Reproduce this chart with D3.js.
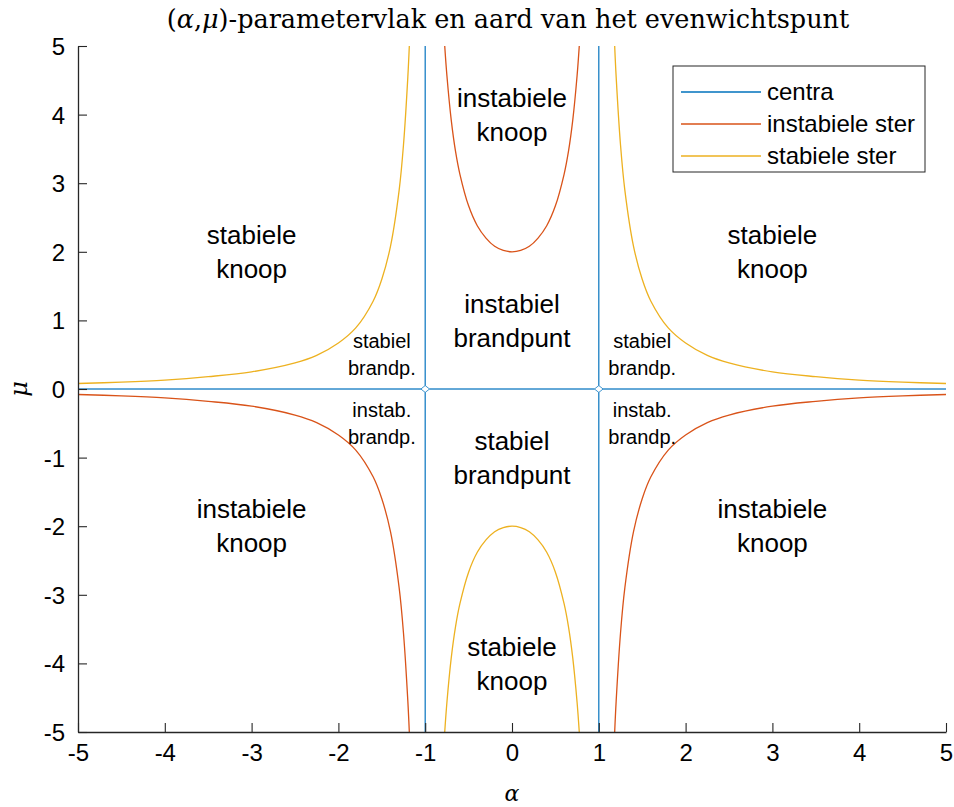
<!DOCTYPE html>
<html>
<head>
<meta charset="utf-8">
<script src="https://d3js.org/d3.v7.min.js"></script>
<style>
  body { margin: 0; background: #fff; }
  text { font-family: "Liberation Sans", Arial, sans-serif; fill: #000; }
</style>
</head>
<body>
<svg id="vis"></svg>
<script>
// ---- data ----
// outer branch (|alpha| > 1), right half, upper side ("stabiele ster")
var outerAlpha = [1.183, 1.2, 1.25, 1.3, 1.4, 1.5, 1.6, 1.8, 2, 2.25, 2.5, 3, 3.5, 4, 4.5, 5];
var outerMu    = [5.0, 4.55, 3.56, 2.90, 2.08, 1.60, 1.28, 0.89, 0.67, 0.49, 0.38, 0.25, 0.18, 0.13, 0.10, 0.08];
// inner branch (|alpha| < 1), right half, upper side ("instabiele ster")
var innerAlpha = [0, 0.1, 0.2, 0.3, 0.4, 0.5, 0.6, 0.65, 0.7, 0.75, 0.775];
var innerMu    = [2.0, 2.02, 2.08, 2.20, 2.38, 2.67, 3.13, 3.46, 3.92, 4.57, 5.0];
// centra: lines alpha = -1, alpha = 1, mu = 0 (contour corners cut by grid step)
var gridStep = 0.05;

var xTicks = [-5, -4, -3, -2, -1, 0, 1, 2, 3, 4, 5];
var yTicks = [-5, -4, -3, -2, -1, 0, 1, 2, 3, 4, 5];

var seriesNames  = ["centra", "instabiele ster", "stabiele ster"];
var seriesColors = ["#0072BD", "#D95319", "#EDB120"];

var regionLabels = [
  { a: -3, m: 2, lines: ["stabiele", "knoop"], big: true },
  { a: 3, m: 2, lines: ["stabiele", "knoop"], big: true },
  { a: 0, m: 4, lines: ["instabiele", "knoop"], big: true },
  { a: 0, m: 1, lines: ["instabiel", "brandpunt"], big: true },
  { a: 0, m: -1, lines: ["stabiel", "brandpunt"], big: true },
  { a: 0, m: -4, lines: ["stabiele", "knoop"], big: true },
  { a: -3, m: -2, lines: ["instabiele", "knoop"], big: true },
  { a: 3, m: -2, lines: ["instabiele", "knoop"], big: true },
  { a: -1.5, m: 0.5, lines: ["stabiel", "brandp."], big: false },
  { a: 1.5, m: 0.5, lines: ["stabiel", "brandp."], big: false },
  { a: -1.5, m: -0.5, lines: ["instab.", "brandp."], big: false },
  { a: 1.5, m: -0.5, lines: ["instab.", "brandp."], big: false }
];

// ---- canvas ----
var W = 954, H = 807;
var mLeft = 78, mRight = 946, mTop = 46, mBottom = 732;

var svg = d3.select("#vis").attr("width", W).attr("height", H);

var x = d3.scaleLinear().domain([-5, 5]).range([mLeft, mRight]);
var y = d3.scaleLinear().domain([-5, 5]).range([mBottom, mTop]);

svg.append("clipPath").attr("id", "clip")
  .append("rect").attr("x", mLeft).attr("y", mTop)
  .attr("width", mRight - mLeft).attr("height", mBottom - mTop);

var plot = svg.append("g").attr("clip-path", "url(#clip)");

var line = d3.line().x(function(d) { return x(d[0]); }).y(function(d) { return y(d[1]); });
var smooth = d3.line().curve(d3.curveCatmullRom)
  .x(function(d) { return x(d[0]); }).y(function(d) { return y(d[1]); });

// build the curves from the read values (mirrored in alpha and mu)
function branch(as, ms, sa, sm) {
  return as.map(function(a, i) { return [sa * a, sm * ms[i]]; });
}
var innerTop = branch(innerAlpha, innerMu, -1, 1).reverse().concat(branch(innerAlpha, innerMu, 1, 1).slice(1));
var innerBot = innerTop.map(function(p) { return [p[0], -p[1]]; });

var curves = [
  { c: 1, pts: innerTop },
  { c: 2, pts: innerBot },
  { c: 2, pts: branch(outerAlpha, outerMu, 1, 1) },
  { c: 2, pts: branch(outerAlpha, outerMu, -1, 1) },
  { c: 1, pts: branch(outerAlpha, outerMu, 1, -1) },
  { c: 1, pts: branch(outerAlpha, outerMu, -1, -1) }
];

// centra pieces: each region boundary with cut corners
var g = gridStep;
var centra = [];
[1, -1].forEach(function(s) {
  centra.push([[-5, 0], [-1 - g, 0], [-1, s * g], [-1, s * 5]]);
  centra.push([[-1, s * 5], [-1, s * g], [-1 + g, 0], [1 - g, 0], [1, s * g], [1, s * 5]]);
  centra.push([[5, 0], [1 + g, 0], [1, s * g], [1, s * 5]]);
});

plot.selectAll(".centra").data(centra).enter().append("path")
  .attr("d", line).attr("fill", "none")
  .attr("stroke", seriesColors[0]).attr("stroke-width", 1)
  .attr("stroke-opacity", 0.75);

plot.selectAll(".curve").data(curves).enter().append("path")
  .attr("d", function(d) { return smooth(d.pts); }).attr("fill", "none")
  .attr("stroke", function(d) { return seriesColors[d.c]; }).attr("stroke-width", 1.3);

// ---- axes ----
var fmt = function(d) { return String(d); };
var xAxis = d3.axisBottom(x).tickValues(xTicks).tickFormat(fmt).tickSizeInner(-9).tickSizeOuter(0).tickPadding(21);
var yAxis = d3.axisLeft(y).tickValues(yTicks).tickFormat(fmt).tickSizeInner(-9).tickSizeOuter(0).tickPadding(13);

var gx = svg.append("g").attr("transform", "translate(0," + mBottom + ")").call(xAxis);
var gy = svg.append("g").attr("transform", "translate(" + mLeft + ",0)").call(yAxis);
[gx, gy].forEach(function(a) {
  a.select(".domain").attr("stroke", "#262626").attr("stroke-width", 1.3);
  a.selectAll(".tick line").attr("stroke", "#262626").attr("stroke-width", 1.1);
  a.selectAll(".tick text").style("font-size", "24px").attr("fill", "#262626")
    .style("font-family", "'Liberation Sans', Arial, sans-serif");
});
gy.selectAll(".tick text").attr("dy", "0.35em");
gx.selectAll(".tick text").attr("dy", "0.35em");

// ---- region labels ----
regionLabels.forEach(function(r) {
  var fs = r.big ? 26 : 20;
  var lh = r.big ? 34 : 27;
  var t = svg.append("text").attr("text-anchor", "middle")
    .style("font-size", fs + "px");
  r.lines.forEach(function(s, i) {
    t.append("tspan").attr("x", x(r.a))
      .attr("y", y(r.m) + (i - 0.5) * lh + fs * 0.35)
      .text(s);
  });
});

// ---- title and axis labels ----
svg.append("text").attr("x", 508).attr("y", 28).attr("text-anchor", "middle")
  .style("font-family", "'DejaVu Serif', 'Liberation Serif', serif").style("font-size", "25.5px")
  .html("(<tspan font-style='italic'>α</tspan>,<tspan font-style='italic'>μ</tspan>)-parametervlak en aard van het evenwichtspunt");

svg.append("text").attr("x", 512).attr("y", 801).attr("text-anchor", "middle")
  .style("font-family", "'DejaVu Serif', 'Liberation Serif', serif").style("font-size", "22px")
  .style("font-style", "italic").text("α");

svg.append("text").attr("transform", "translate(27," + y(0) + ") rotate(-90)")
  .attr("text-anchor", "middle")
  .style("font-family", "'DejaVu Serif', 'Liberation Serif', serif").style("font-size", "24px")
  .style("font-style", "italic").text("μ");

// ---- legend ----
var lg = svg.append("g").attr("transform", "translate(673,66)");
lg.append("rect").attr("width", 252).attr("height", 106)
  .attr("fill", "#fff").attr("stroke", "#262626").attr("stroke-width", 1);
seriesNames.forEach(function(n, i) {
  var yy = 26 + i * 32;
  lg.append("line").attr("x1", 8).attr("x2", 88).attr("y1", yy).attr("y2", yy)
    .attr("stroke", seriesColors[i]).attr("stroke-width", 1.3);
  lg.append("text").attr("x", 94).attr("y", yy).attr("dy", "0.35em")
    .style("font-size", "24px").text(n);
});
</script>
</body>
</html>
